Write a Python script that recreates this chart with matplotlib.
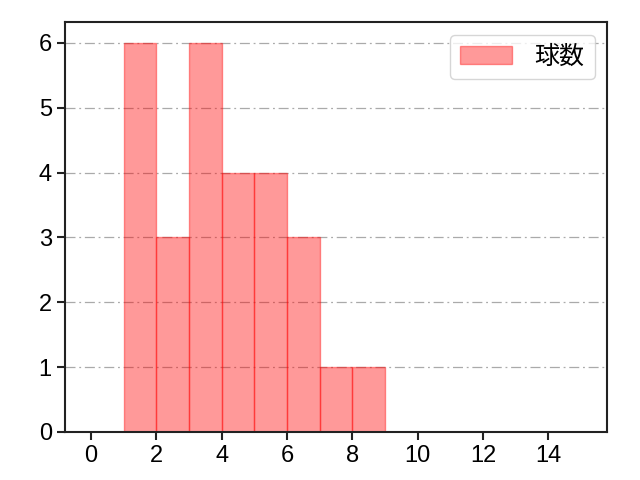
import matplotlib
matplotlib.use("Agg")
import matplotlib.pyplot as plt

plt.rcParams['font.family'] = ['Liberation Sans', 'Noto Sans CJK JP', 'DejaVu Sans']

bin_edges = [1, 2, 3, 4, 5, 6, 7, 8, 9]
counts = [6, 3, 6, 4, 4, 3, 1, 1]
label = "球数"

fig = plt.figure(figsize=(6.4, 4.8), dpi=100)
ax = fig.add_axes([65/640, 48/480, (607-65)/640, (432-22)/480])
ax.hist(bin_edges[:-1], bins=bin_edges, weights=counts, color='red', alpha=0.4,
        edgecolor='red', linewidth=1, label=label)
ax.set_xlim(-0.8, 15.8)
ax.set_ylim(0, 6.32)
ax.set_xticks([0, 2, 4, 6, 8, 10, 12, 14])
ax.set_yticks([0, 1, 2, 3, 4, 5, 6])
ax.yaxis.grid(True, linestyle=(0, (8, 3, 1.5, 3)), color='#aaaaaa', linewidth=0.9)
ax.set_axisbelow(True)
for s in ax.spines.values():
    s.set_linewidth(1.5)
    s.set_color('#222222')
ax.tick_params(labelsize=17, width=1.5, length=6, color='#222222')
ax.legend(loc='upper right', fontsize=18, handlelength=2.1, handletextpad=0.9,
          borderaxespad=0.5)
fig.savefig("out.png", dpi=100)
